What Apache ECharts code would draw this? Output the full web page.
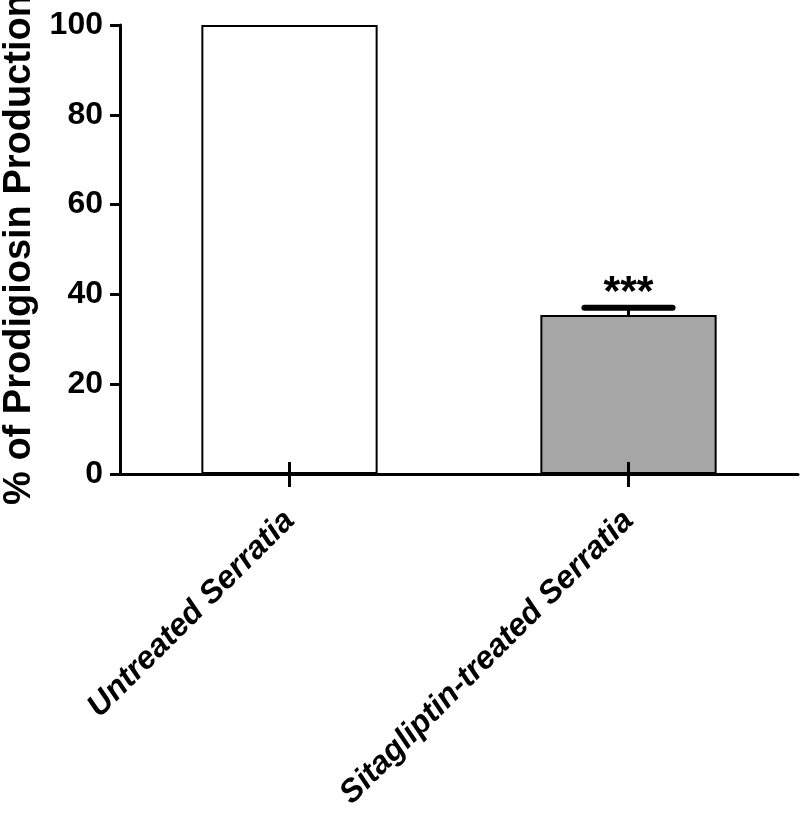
<!DOCTYPE html>
<html>
<head>
<meta charset="utf-8">
<script src="https://cdn.jsdelivr.net/npm/echarts@6/dist/echarts.min.js"></script>
<style>
html, body { margin: 0; padding: 0; background: #fff; }
#chart { width: 800px; height: 820px; }
</style>
</head>
<body>
<div id="chart"></div>
<script>
// data
var categories = ['Untreated Serratia', 'Sitagliptin-treated Serratia'];
var means = [100, 35.4];
var errTop = [null, 37.0];
var sigMarks = ['', '***'];
var barColors = ['#ffffff', '#a6a6a6'];
var yTicks = [0, 20, 40, 60, 80, 100];

(function(){

var chart = echarts.init(document.getElementById('chart'));
var font = 'Liberation Sans, Arial, Helvetica, sans-serif';

option = {
    animation: false,
    grid: {
        left: 120,
        right: 2,
        top: 25,
        bottom: 346,
        containLabel: false,
        outerBoundsMode: 'none'
    },
    xAxis: [
        {
            type: 'category',
            data: categories,
            axisLine: { lineStyle: { color: '#000', width: 3 } },
            axisTick: { show: true, alignWithLabel: true, length: 13, lineStyle: { color: '#000', width: 3 } },
            axisLabel: {
                rotate: 45,
                margin: 42,
                color: '#000',
                fontFamily: font,
                fontWeight: 'bold',
                fontStyle: 'italic',
                fontSize: 32,
                interval: 0
            }
        },
        {
            // inner half of the crossing ticks
            type: 'category',
            data: categories,
            position: 'bottom',
            z: 10,
            axisLine: { show: false },
            axisTick: { show: true, inside: true, alignWithLabel: true, length: 12, lineStyle: { color: '#000', width: 3 } },
            axisLabel: { show: false }
        }
    ],
    yAxis: {
        type: 'value',
        min: 0,
        max: 100,
        interval: 20,
        name: '% of Prodigiosin Production',
        nameLocation: 'middle',
        nameGap: 81,
        nameTextStyle: {
            color: '#000',
            fontFamily: font,
            fontWeight: 'bold',
            fontSize: 38
        },
        splitLine: { show: false },
        axisLine: { show: true, lineStyle: { color: '#000', width: 3 } },
        axisTick: { show: true, length: 10, lineStyle: { color: '#000', width: 3 } },
        axisLabel: {
            margin: 17,
            color: '#000',
            fontFamily: font,
            fontWeight: 'bold',
            fontSize: 32,
            customValues: yTicks
        }
    },
    series: [
        {
            type: 'bar',
            barWidth: '52%',
            data: means.map(function (v, i) {
                return {
                    value: v,
                    itemStyle: { color: barColors[i], borderColor: '#000', borderWidth: 2 }
                };
            }),
            z: 2
        },
        {
            type: 'custom',
            z: 3,
            data: means.map(function (v, i) { return [i, v, errTop[i]]; }),
            renderItem: function (params, api) {
                var hi = api.value(2);
                if (hi === null || isNaN(hi)) return null;
                var base = api.coord([api.value(0), api.value(1)]);
                var top = api.coord([api.value(0), hi]);
                var half = api.size([1, 0])[0] * 0.13;
                var idx = params.dataIndex;
                return {
                    type: 'group',
                    children: [
                        {
                            type: 'line',
                            shape: { x1: base[0], y1: base[1], x2: top[0], y2: top[1] },
                            style: { stroke: '#000', lineWidth: 3 }
                        },
                        {
                            type: 'line',
                            shape: { x1: top[0] - half, y1: top[1], x2: top[0] + half, y2: top[1] },
                            style: { stroke: '#000', lineWidth: 6, lineCap: 'round' }
                        },
                        {
                            type: 'text',
                            x: top[0],
                            y: top[1] + 7,
                            style: {
                                text: sigMarks[idx],
                                fill: '#000',
                                font: 'bold 43px ' + font,
                                align: 'center',
                                verticalAlign: 'bottom'
                            }
                        }
                    ]
                };
            }
        }
    ]
};

chart.setOption(option);
})();
</script>
</body>
</html>
